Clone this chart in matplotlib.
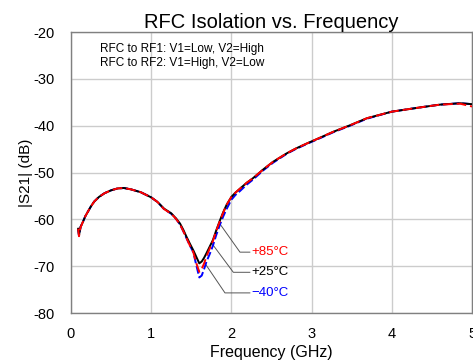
import matplotlib
matplotlib.use('Agg')
import matplotlib.pyplot as plt

plt.rcParams['font.family'] = ['Liberation Sans', 'DejaVu Sans']

# data
freq = [0.09, 0.10, 0.12, 0.15, 0.18, 0.21, 0.25, 0.29, 0.35, 0.42, 0.50, 0.58, 0.66,
        0.75, 0.87, 1.0, 1.08, 1.16, 1.25, 1.31, 1.36, 1.40, 1.44, 1.48, 1.525, 1.56,
        1.60, 1.63, 1.66, 1.69, 1.73, 1.77, 1.81, 1.86, 1.90, 1.94, 2.0, 2.05, 2.11,
        2.19, 2.27, 2.40, 2.52, 2.69, 2.80, 2.94, 3.1, 3.27, 3.48, 3.69, 4.0, 4.35,
        4.6, 4.85, 5.0]
s21_25 = [-62.0, -63.4, -61.6, -60.5, -59.3, -58.4, -57.2, -56.2, -55.2, -54.4, -53.8,
          -53.4, -53.3, -53.6, -54.2, -55.3, -56.3, -57.7, -58.7, -59.8, -60.9, -62.2,
          -63.7, -65.1, -66.6, -67.9, -69.4, -69.0, -68.2, -67.2, -65.8, -64.4, -62.4,
          -60.1, -58.4, -56.9, -55.2, -54.3, -53.4, -52.2, -51.2, -49.3, -47.7, -45.9,
          -44.9, -43.8, -42.6, -41.3, -39.9, -38.4, -37.0, -36.1, -35.5, -35.2, -35.4]
s21_85 = [-62.0, -63.6, -61.7, -60.5, -59.3, -58.4, -57.2, -56.2, -55.2, -54.4, -53.8,
          -53.4, -53.3, -53.6, -54.2, -55.3, -56.3, -57.8, -58.8, -59.9, -61.1, -62.5,
          -64.0, -65.5, -67.0, -69.2, -71.2, -70.6, -69.4, -67.9, -66.2, -64.6, -62.5,
          -60.2, -58.5, -56.9, -55.2, -54.3, -53.4, -52.2, -51.2, -49.3, -47.7, -45.9,
          -44.9, -43.8, -42.6, -41.3, -39.9, -38.4, -37.0, -36.1, -35.5, -35.3, -35.9]
s21_m40 = [-62.0, -63.5, -61.6, -60.5, -59.3, -58.4, -57.2, -56.2, -55.2, -54.4, -53.8,
           -53.4, -53.3, -53.6, -54.2, -55.3, -56.3, -57.8, -58.8, -59.9, -61.1, -62.5,
           -64.0, -65.5, -67.0, -69.6, -72.4, -72.0, -70.6, -69.0, -67.4, -65.6, -63.4,
           -61.0, -59.3, -57.8, -55.8, -54.8, -53.9, -52.6, -51.5, -49.5, -47.9, -46.0,
           -45.0, -43.9, -42.7, -41.4, -40.0, -38.5, -37.0, -36.1, -35.5, -35.2, -35.4]

labels = ['+85°C', '+25°C', '\u221240°C']
colors = ['red', 'black', 'blue']
# leader lines: start on the curve, then elbow, then horizontal to the text
lead_start = [(1.85, -60.8), (1.755, -65.1), (1.671, -69.4)]
lead_elbow = [(2.107, -67.0), (2.024, -71.3), (1.92, -75.7)]

fig = plt.figure(figsize=(4.73, 3.64), dpi=100)
ax = fig.add_axes([0.150, 0.140, 0.848, 0.772])

ax.plot(freq, s21_m40, color='blue', lw=1.4, ls=(0, (4, 1.5)), zorder=3)
ax.plot(freq, s21_25, color='black', lw=1.4, zorder=4)
ax.plot(freq, s21_85, color='red', lw=1.4, ls=(0, (5, 2)), zorder=5)

for lab, c, (x0, y0), (x1, y1) in zip(labels, colors, lead_start, lead_elbow):
    ax.plot([x0, x1, 2.23], [y0, y1, y1], color='#555555', lw=0.7, zorder=2)
    ax.text(2.25, y1, lab, color=c, fontsize=9.5, va='center', ha='left')

ax.text(0.072, 0.94, 'RFC to RF1: V1=Low, V2=High', transform=ax.transAxes,
        fontsize=8.5, va='center')
ax.text(0.072, 0.89, 'RFC to RF2: V1=High, V2=Low', transform=ax.transAxes,
        fontsize=8.5, va='center')

ax.set_xlim(0, 5)
ax.set_ylim(-80, -20)
ax.set_xticks([0, 1, 2, 3, 4, 5])
ax.set_yticks(range(-80, -19, 10))
ax.set_yticklabels([str(v) for v in range(-80, -19, 10)])
ax.tick_params(length=0, labelsize=10.5)
ax.tick_params(axis='x', pad=10)
ax.tick_params(axis='y', pad=12)
ax.grid(True, color='#cccccc', lw=1)
ax.set_axisbelow(True)
for sp in ax.spines.values():
    sp.set_color('#808080')
    sp.set_linewidth(1)

ax.set_xlabel('Frequency (GHz)', fontsize=11.5, labelpad=3)
ax.set_ylabel('|S21| (dB)', fontsize=11, labelpad=0)
ax.set_title('RFC Isolation vs. Frequency', fontsize=14.5, pad=3)

fig.savefig('out.png', dpi=100)
